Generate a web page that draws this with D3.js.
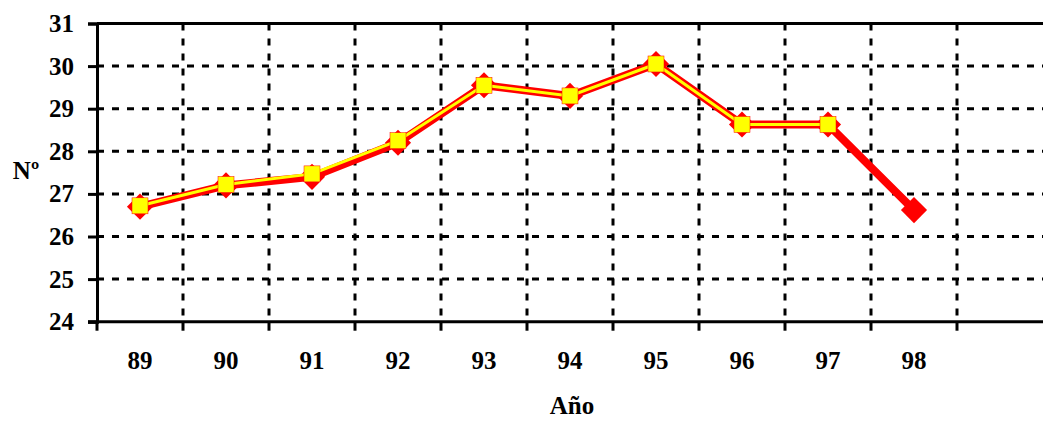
<!DOCTYPE html>
<html><head><meta charset="utf-8">
<script src="https://cdn.jsdelivr.net/npm/d3@7"></script>
<style>body{margin:0;background:#fff}svg{display:block}svg text{font-family:"Times New Roman","Liberation Serif","DejaVu Serif",serif !important;font-weight:bold !important;fill:#000}</style>
</head><body>
<svg id="c" width="1044" height="421"></svg>
<script>
const categories = ["89","90","91","92","93","94","95","96","97","98"];
const redValues = [26.7, 27.2, 27.4, 28.2, 29.55, 29.3, 30.05, 28.63, 28.63, 26.62];
const yellowValues = [26.72, 27.22, 27.47, 28.25, 29.55, 29.3, 30.05, 28.63, 28.63];
const yTicks = [24,25,26,27,28,29,30,31];

const svg = d3.select("#c");
const L = 97, R = 1043, T = 23.5, B = 321.7;
const x = d3.scaleBand().domain([...categories, "_"]).range([L, R]).paddingInner(0).paddingOuter(0);
const y = d3.scaleLinear().domain([24, 31]).range([B, T]);

// grid
const g = svg.append("g");
g.selectAll("line.h").data(yTicks.filter(v => v > 24 && v < 31)).join("line")
  .attr("x1", L).attr("x2", R).attr("y1", d => y(d)).attr("y2", d => y(d))
  .attr("stroke", "#000").attr("stroke-width", 3).attr("stroke-dasharray", "7,8");
g.selectAll("line.v").data(x.domain().slice(1)).join("line")
  .attr("x1", d => x(d)).attr("x2", d => x(d)).attr("y1", T).attr("y2", B)
  .attr("stroke", "#000").attr("stroke-width", 3).attr("stroke-dasharray", "7,8");
// top border
g.append("line").attr("x1", L).attr("x2", R).attr("y1", y(31)).attr("y2", y(31)).attr("stroke", "#000").attr("stroke-width", 3);

// y axis
const yAxis = svg.append("g").attr("transform", `translate(${L},0)`)
  .call(d3.axisLeft(y).tickValues(yTicks).tickSize(9).tickPadding(14).tickFormat(d3.format("d")));
yAxis.attr("font-family", null).attr("font-size", null);
yAxis.select(".domain").attr("stroke-width", 3);
yAxis.selectAll(".tick line").attr("stroke-width", 3);
yAxis.selectAll("text").attr("font-size", 25);

// x axis
const xAxis = svg.append("g").attr("transform", `translate(0,${B})`)
  .call(d3.axisBottom(x).tickSize(0).tickPadding(30).tickFormat(d => d === "_" ? "" : d));
xAxis.attr("font-family", null).attr("font-size", null);
xAxis.select(".domain").attr("stroke-width", 3).attr("d", `M${L-9},0H${R}`);
xAxis.selectAll("text").attr("font-size", 25);
xAxis.selectAll("line.bt").data(x.domain()).join("line").attr("class","bt")
  .attr("x1", d => x(d)).attr("x2", d => x(d)).attr("y1", 0).attr("y2", 9)
  .attr("stroke", "#000").attr("stroke-width", 3);

// axis titles
svg.append("text").attr("x", 26).attr("y", 179).attr("text-anchor", "middle").attr("font-size", 25).text("Nº");
svg.append("text").attr("x", 572).attr("y", 414).attr("text-anchor", "middle").attr("font-size", 25).text("Año");

const cx = d => x(d) + x.bandwidth() / 2;
const redData = categories.map((c, i) => ({c, v: redValues[i]}));
const yelData = yellowValues.map((v, i) => ({c: categories[i], v}));
const line = d3.line().x(d => cx(d.c)).y(d => y(d.v));

svg.append("path").datum(redData).attr("d", line).attr("fill", "none")
  .attr("stroke", "#ff0000").attr("stroke-width", 8).attr("stroke-linejoin", "round");
svg.selectAll("path.dia").data(redData).join("path").attr("class", "dia")
  .attr("d", d3.symbol().type(d3.symbolSquare).size(18.5*18.5))
  .attr("transform", d => `translate(${cx(d.c)},${y(d.v)}) rotate(45)`)
  .attr("fill", "#ff0000");

svg.append("path").datum(yelData).attr("d", line).attr("fill", "none")
  .attr("stroke", "#ffff00").attr("stroke-width", 3);
svg.selectAll("rect.sq").data(yelData).join("rect").attr("class", "sq")
  .attr("x", d => cx(d.c) - 8).attr("y", d => y(d.v) - 8).attr("width", 16).attr("height", 16)
  .attr("fill", "#ffff00").attr("stroke", "#ff0000").attr("stroke-width", 0.5);
</script>
</body></html>
